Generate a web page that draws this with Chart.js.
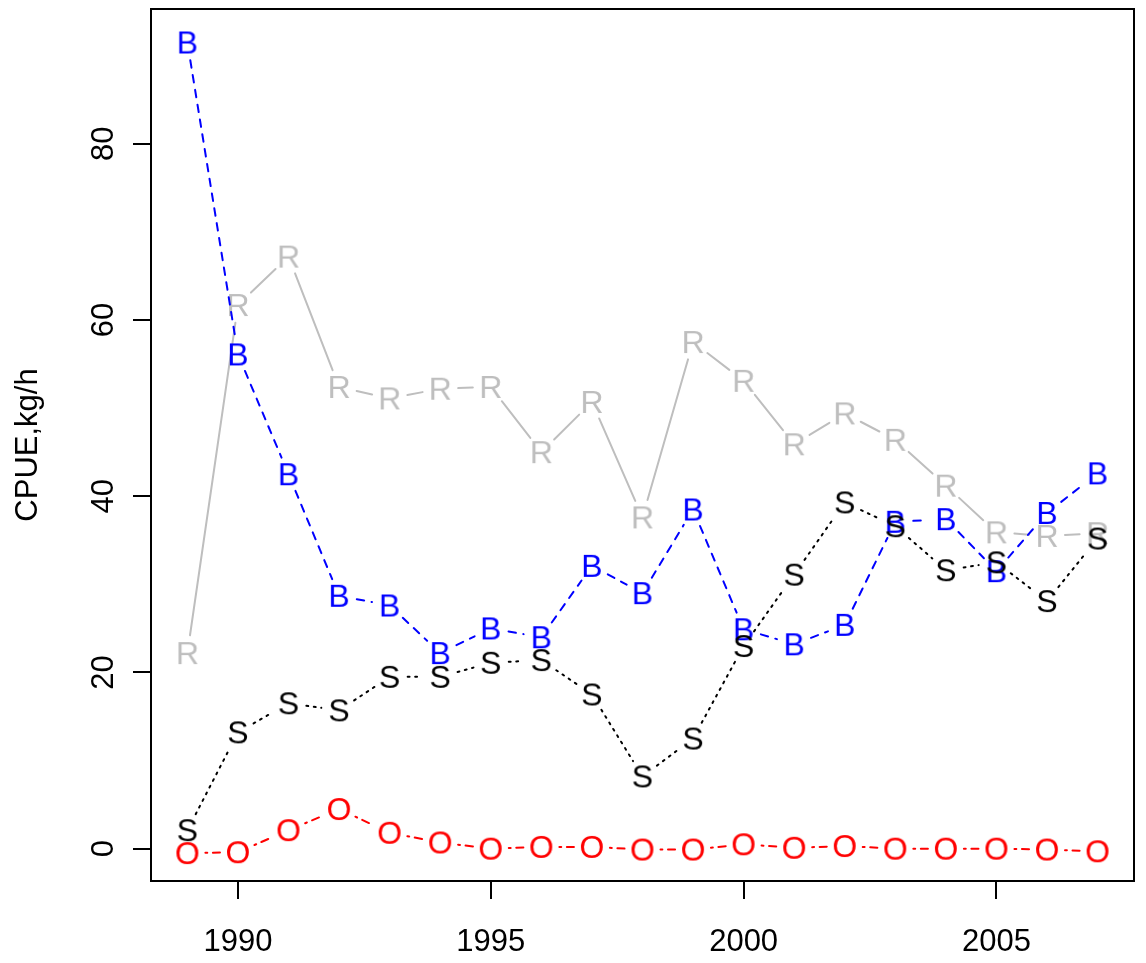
<!DOCTYPE html>
<html>
<head>
<meta charset="utf-8">
<script src="https://cdn.jsdelivr.net/npm/chart.js@4/dist/chart.umd.min.js"></script>
<style>
  html, body { margin: 0; padding: 0; background: #ffffff; }
  #wrap { width: 1146px; height: 963px; }
</style>
</head>
<body>
<div id="wrap"><canvas id="cpue" width="1146" height="963"></canvas></div>
<script>
// Survey years
const years = [1989, 1990, 1991, 1992, 1993, 1994, 1995, 1996, 1997, 1998,
               1999, 2000, 2001, 2002, 2003, 2004, 2005, 2006, 2007];

// Catch per unit effort (kg/h) by series
const seriesR = [22.2, 61.7, 67.2, 52.4, 51.1, 52.2, 52.4, 45.0, 50.7, 37.6,
                 57.5, 53.1, 45.9, 49.4, 46.4, 41.2, 35.9, 35.5, 35.8];
const seriesB = [91.5, 56.1, 42.5, 28.7, 27.6, 22.2, 25.0, 24.0, 32.1, 29.0,
                 38.5, 24.9, 23.2, 25.4, 37.1, 37.4, 31.5, 38.1, 42.6];
const seriesS = [2.1, 13.2, 16.5, 15.7, 19.5, 19.5, 21.1, 21.4, 17.5, 8.2,
                 12.5, 23.0, 31.1, 39.3, 36.6, 31.6, 32.5, 28.1, 35.2];
const seriesO = [-0.5, -0.4, 2.1, 4.5, 1.8, 0.7, 0.0, 0.2, 0.2, -0.1,
                 -0.1, 0.5, 0.1, 0.3, 0.0, 0.0, 0.0, -0.1, -0.3];

// Axis ticks
const xTicks = [1990, 1995, 2000, 2005];
const yTicks = [0, 20, 40, 60, 80];

const FONT = "'Liberation Sans', Arial, Helvetica, sans-serif";
const LW = 2;              // base line width
const GAP = 18;            // gap left around each plotting letter

// Build a letter glyph as a point image, with its ink box centred
function letterPoint(ch, color) {
  const c = document.createElement('canvas');
  c.width = 46; c.height = 46;
  const g = c.getContext('2d');
  g.font = '32px ' + FONT;
  g.fillStyle = color;
  g.textAlign = 'center';
  g.textBaseline = 'alphabetic';
  const m = g.measureText(ch);
  const asc = m.actualBoundingBoxAscent, desc = m.actualBoundingBoxDescent;
  g.fillText(ch, 23, 23 + (asc - desc) / 2);
  return c;
}

function pts(vals) { return years.map((yr, i) => ({ x: yr, y: vals[i] })); }

// Segments drawn between letters, trimmed back from each point (type "b" style)
const gappedLines = {
  id: 'gappedLines',
  beforeDatasetDraw(chart, args) {
    const ds = chart.data.datasets[args.index];
    const p = args.meta.data;
    const ctx = chart.ctx;
    ctx.save();
    ctx.strokeStyle = ds.lineColor;
    ctx.lineWidth = LW;
    ctx.lineCap = 'round';
    ctx.setLineDash(ds.gapDash);
    for (let i = 1; i < p.length; i++) {
      const a = p[i - 1], b = p[i];
      const dx = b.x - a.x, dy = b.y - a.y, f = Math.hypot(dx, dy);
      if (f <= 2 * GAP) continue;
      const ux = dx / f, uy = dy / f;
      ctx.lineDashOffset = 0;
      ctx.beginPath();
      ctx.moveTo(a.x + ux * GAP, a.y + uy * GAP);
      ctx.lineTo(b.x - ux * GAP, b.y - uy * GAP);
      ctx.stroke();
    }
    ctx.restore();
  }
};

// Box round the plotting region
const frame = {
  id: 'frame',
  afterDraw(chart) {
    const { ctx, chartArea: a } = chart;
    ctx.save();
    ctx.strokeStyle = '#000';
    ctx.lineWidth = LW;
    ctx.strokeRect(a.left, a.top, a.right - a.left, a.bottom - a.top);
    ctx.restore();
  }
};

function series(vals, ch, color, dash) {
  return {
    data: pts(vals),
    showLine: false,
    pointStyle: letterPoint(ch, color),
    pointRadius: 5,
    lineColor: color,
    gapDash: dash
  };
}

// Later entries are drawn first
const datasets = [
  series(seriesO, 'O', '#FF0000', [1.875, 5.625, 7.5, 5.625]),
  series(seriesS, 'S', '#000000', [1.875, 5.625]),
  series(seriesB, 'B', '#0000FF', [7.5, 7.5]),
  series(seriesR, 'R', '#BEBEBE', [])
];

new Chart(document.getElementById('cpue'), {
  type: 'line',
  data: { datasets },
  plugins: [gappedLines, frame],
  options: {
    responsive: false,
    animation: false,
    events: [],
    layout: { padding: { top: 9, right: 12, left: 0, bottom: 0 } },
    plugins: { legend: { display: false }, tooltip: { enabled: false } },
    scales: {
      x: {
        type: 'linear',
        min: 1988.28,
        max: 2007.72,
        afterFit(s) { s.height = 82; s.paddingLeft = 0; s.paddingRight = 0; },
        afterBuildTicks(s) { s.ticks = xTicks.map(v => ({ value: v })); },
        grid: { drawOnChartArea: false, drawTicks: true, tickLength: 18, color: '#000', lineWidth: LW },
        border: { display: false },
        ticks: {
          autoSkip: false, maxRotation: 0, minRotation: 0, padding: 25,
          color: '#000', font: { family: FONT, size: 31 },
          callback: v => String(v)
        }
      },
      y: {
        type: 'linear',
        min: -3.67,
        max: 95.3,
        afterFit(s) { s.width = 151; s.paddingTop = 0; s.paddingBottom = 0; },
        afterBuildTicks(s) { s.ticks = yTicks.map(v => ({ value: v })); },
        grid: { drawOnChartArea: false, drawTicks: true, tickLength: 18, color: '#000', lineWidth: LW },
        border: { display: false },
        title: {
          display: true, text: 'CPUE,kg/h', color: '#000',
          font: { family: FONT, size: 31 }, padding: { top: 10, bottom: 0 }
        },
        ticks: {
          autoSkip: false, minRotation: 90, maxRotation: 90, crossAlign: 'center', padding: 11,
          color: '#000', font: { family: FONT, size: 31 },
          callback: v => String(v)
        }
      }
    }
  }
});
</script>
</body>
</html>
